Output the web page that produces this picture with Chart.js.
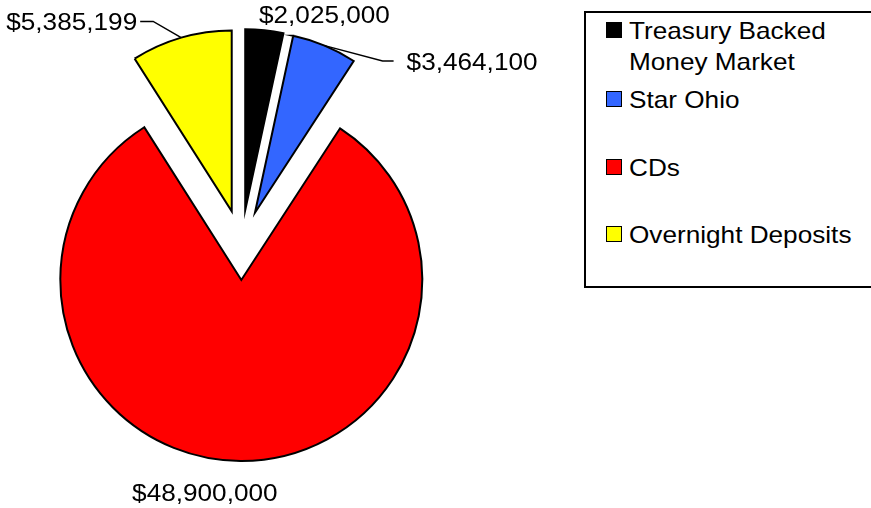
<!DOCTYPE html>
<html>
<head>
<meta charset="utf-8">
<script src="https://cdn.jsdelivr.net/npm/chart.js@4"></script>
<style>
  html, body { margin: 0; padding: 0; background: #fff; overflow: hidden; }
  #wrap { position: relative; width: 871px; height: 508px; }
  #holdings { position: absolute; left: 0; top: 0; }
  #legend {
    position: absolute; left: 584px; top: 11px; width: 300px; height: 273px;
    border: 2px solid #000; background: #fff;
    font-family: "Liberation Sans", Arial, sans-serif; font-size: 24px; color: #000;
  }
  .row { position: absolute; left: 20px; display: flex; align-items: flex-start; }
  .swatch { width: 14px; height: 14px; border: 1.5px solid #000; margin-top: 7px; flex: none; }
  .text { margin-left: 7px; line-height: 31px; transform: scaleX(1.09); transform-origin: left center; white-space: nowrap; }
</style>
</head>
<body>
<div id="wrap">
  <canvas id="holdings" width="871" height="508"></canvas>
  <div id="legend"></div>
</div>
<script>
const categories = ['Treasury Backed Money Market', 'Star Ohio', 'CDs', 'Overnight Deposits'];
const legendLines = [['Treasury Backed', 'Money Market'], ['Star Ohio'], ['CDs'], ['Overnight Deposits']];
const amounts = [2025000, 3464100, 48900000, 5385199];
const sliceColors = ['#000000', '#3366FF', '#FF0000', '#FFFF00'];

const EXPLODE = 35;
const LABEL_FONT = '24px "Liberation Sans", Arial, sans-serif';
const TEXT_STRETCH = 1.09;

// label placement relative to the middle of each slice's outer edge
const labelPlacement = [
    { dx: 60, dy: -7, align: 'center' },
    { dx: 82, dy: 24, align: 'left', leader: { gap: 13, run: 11 } },
    { dx: -35.5, dy: 40, align: 'center' },
    { dx: -44, dy: -7.6, align: 'right', leader: { gap: 3, run: 13 } }
];

// legend row tops inside the box
const legendRowTops = [2, 70.5, 139, 205.5];

function money(v) {
    return '$' + v.toLocaleString('en-US');
}

// push every slice out along its bisector
const explodePlugin = {
    id: 'explode',
    afterDatasetsUpdate(chart) {
        chart.getDatasetMeta(0).data.forEach(arc => {
            const mid = (arc.startAngle + arc.endAngle) / 2;
            arc.x += Math.cos(mid) * EXPLODE;
            arc.y += Math.sin(mid) * EXPLODE;
        });
    }
};

const valueLabels = {
    id: 'valueLabels',
    afterDatasetsDraw(chart) {
        const ctx = chart.ctx;
        const meta = chart.getDatasetMeta(0);
        ctx.save();
        ctx.font = LABEL_FONT;
        ctx.fillStyle = '#000';
        ctx.strokeStyle = '#000';
        ctx.lineWidth = 1.5;
        meta.data.forEach((arc, i) => {
            const mid = (arc.startAngle + arc.endAngle) / 2;
            const ax = arc.x + Math.cos(mid) * arc.outerRadius;
            const ay = arc.y + Math.sin(mid) * arc.outerRadius;
            const p = labelPlacement[i];
            const lx = ax + p.dx;
            const ly = ay + p.dy;
            const text = money(amounts[i]);

            if (p.leader) {
                const dir = p.align === 'right' ? 1 : -1;
                const yMid = ly - 8.6;
                const x0 = lx + dir * p.leader.gap;
                const x1 = x0 + dir * p.leader.run;
                ctx.beginPath();
                ctx.moveTo(x0, yMid);
                ctx.lineTo(x1, yMid);
                ctx.lineTo(ax, ay);
                ctx.stroke();
            }

            ctx.save();
            ctx.translate(lx, ly);
            ctx.scale(TEXT_STRETCH, 1);
            ctx.textAlign = p.align;
            ctx.textBaseline = 'alphabetic';
            ctx.fillText(text, 0, 0);
            ctx.restore();
        });
        ctx.restore();
    }
};

const ctx = document.getElementById('holdings').getContext('2d');
const holdingsChart = new Chart(ctx, {
    type: 'pie',
    data: {
        labels: categories,
        datasets: [{
            data: amounts,
            backgroundColor: sliceColors,
            borderColor: '#000',
            borderWidth: 2,
            borderJoinStyle: 'miter'
        }]
    },
    options: {
        responsive: false,
        animation: false,
        layout: {
            padding: { left: 59.5, right: 447.5, top: 63, bottom: 81 }
        },
        plugins: {
            legend: { display: false },
            tooltip: { enabled: false }
        }
    },
    plugins: [explodePlugin, valueLabels]
});

// legend box
const legendBox = document.getElementById('legend');
legendLines.forEach((lines, i) => {
    const row = document.createElement('div');
    row.className = 'row';
    row.style.top = legendRowTops[i] + 'px';
    const swatch = document.createElement('div');
    swatch.className = 'swatch';
    swatch.style.background = sliceColors[i];
    const text = document.createElement('div');
    text.className = 'text';
    text.innerHTML = lines.join('<br>');
    row.appendChild(swatch);
    row.appendChild(text);
    legendBox.appendChild(row);
});
</script>
</body>
</html>
